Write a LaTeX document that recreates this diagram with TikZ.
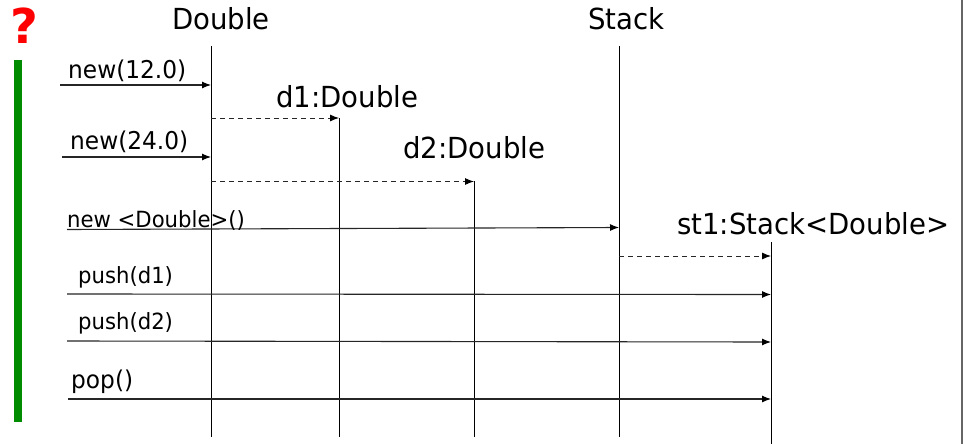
\documentclass[tikz,border=0pt]{standalone}
\usepackage{fontspec}
\setmainfont[FakeStretch=0.95]{DejaVu Sans}
\newfontfamily\qfont{DejaVu Sans Bold}
\usetikzlibrary{arrows.meta}
\tikzset{
  tip/.style={-{Latex[length=9pt,width=7pt,color=black]}},
  lifeline/.style={draw=black, line width=0.9pt},
  msg/.style={draw=black!85, line width=1.1pt, tip},
  reply/.style={draw=black!85, line width=0.9pt, dash pattern=on 5pt off 4pt, tip},
  head/.style={anchor=base west, inner sep=0pt, font=\fontsize{29}{29}\selectfont},
  mlabel/.style={anchor=base west, inner sep=0pt, font=\fontsize{24.5}{24.5}\selectfont},
  slabel/.style={anchor=base west, inner sep=0pt, font=\fontsize{22.3}{22.3}\selectfont},
}
\begin{document}
\begin{tikzpicture}[x=1pt,y=-1pt]
\useasboundingbox (0,0) rectangle (963,444);
\fill[white] (0,0) rectangle (963,444);
% right border
\draw[draw=black!60, line width=1.5pt] (962,0) -- (962,444);
% question mark and green bar
\node[text=red, font=\qfont\fontsize{48}{48}\selectfont, inner sep=0pt] (q) at (24,26) {?};
\fill[green!55!black] (13.5,60) rectangle (21.5,422);
% heads
\node[head] (hDouble) at (172,30) {Double};
\node[head] (hStack) at (588,30) {Stack};
\node[head] (hd1) at (276,107) {d1:Double};
\node[head] (hd2) at (403,158) {d2:Double};
\node[head] (hst1) at (677,234) {st1:Stack<Double>};
% lifelines
\coordinate (Dtop) at (211,46); \coordinate (Dbot) at (211,437);
\coordinate (Stop) at (619,46); \coordinate (Sbot) at (619,437);
\coordinate (d1top) at (339,118); \coordinate (d1bot) at (339,437);
\coordinate (d2top) at (474,181); \coordinate (d2bot) at (474,437);
\coordinate (sttop) at (771,242); \coordinate (stbot) at (771,444);
\draw[lifeline] (Dtop) -- (Dbot);
\draw[lifeline] (Stop) -- (Sbot);
\draw[lifeline] (d1top) -- (d1bot);
\draw[lifeline] (d2top) -- (d2bot);
\draw[lifeline] (sttop) -- (stbot);
% message endpoints
\coordinate (m1s) at (60,85);   \coordinate (m1e) at (211,85);
\coordinate (r1s) at (211,118); \coordinate (r1e) at (339,118);
\coordinate (m2s) at (62,157);  \coordinate (m2e) at (211,157);
\coordinate (r2s) at (211,181.5); \coordinate (r2e) at (474,181.5);
\coordinate (m3s) at (67,229.5);  \coordinate (m3e) at (619,227.5);
\coordinate (r3s) at (619,256); \coordinate (r3e) at (771,256);
\coordinate (m4s) at (67,294);  \coordinate (m4e) at (771,294.5);
\coordinate (m5s) at (67,341);  \coordinate (m5e) at (771,342);
\coordinate (m6s) at (68,399);  \coordinate (m6e) at (771,399);
\draw[msg] (m1s) -- (m1e);
\draw[reply] (r1s) -- (r1e);
\draw[msg] (m2s) -- (m2e);
\draw[reply] (r2s) -- (r2e);
\draw[msg] (m3s) -- (m3e);
\draw[reply] (r3s) -- (r3e);
\draw[msg] (m4s) -- (m4e);
\draw[msg] (m5s) -- (m5e);
\draw[msg] (m6s) -- (m6e);
% labels
\node[mlabel] (l1) at (68,78) {new(12.0)};
\node[mlabel] (l2) at (70,149) {new(24.0)};
\node[slabel] (l3) at (67,227) {new <Double>()};
\node[slabel] (l4) at (78,283) {push(d1)};
\node[slabel] (l5) at (78,329) {push(d2)};
\node[mlabel] (l6) at (71,388) {pop()};
\end{tikzpicture}
\end{document}
